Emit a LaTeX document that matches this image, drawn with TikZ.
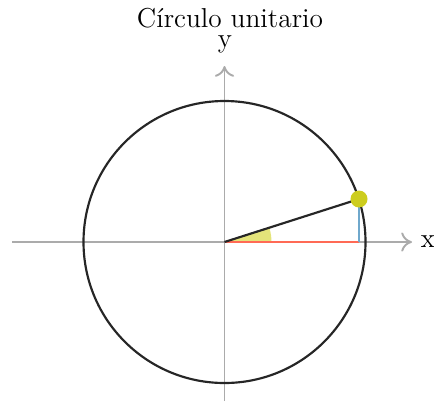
\documentclass[tikz,border=0pt]{standalone}
\usetikzlibrary{arrows.meta}
\definecolor{axisgray}{HTML}{ABABAB}
\definecolor{redline}{HTML}{FF6A55}
\definecolor{blueline}{HTML}{6FA8CC}
\definecolor{dotyellow}{HTML}{CDCD1E}
\definecolor{wedgefill}{HTML}{E4E47A}
\tikzset{
  axis/.style={draw=axisgray, line width=0.8pt, -{To[length=4.5pt,width=8pt]}},
  lbl/.style={inner sep=0pt, font=\fontsize{11.4}{13}\selectfont},
}
\begin{document}
\begin{tikzpicture}[x=0.4167pt, y=-0.4167pt]
\useasboundingbox (0,0) rectangle (434,404);
\coordinate (O) at (224.5,242);
\coordinate (L) at (12,242);
\coordinate (R) at (412,242);
\coordinate (B) at (224.5,401);
\coordinate (T) at (224.5,66);
\coordinate (P) at (359,199);
\coordinate (F) at (359,242);
\coordinate (W) at (271.5,242);
\node[lbl, anchor=base] (title) at (230,27) {Círculo unitario};
\node[lbl, anchor=base] (ylab) at (225,47) {y};
\node[lbl] (xlab) at (428,242) {x};
% angle wedge
\fill[wedgefill] (O) -- (W) arc[start angle=0, end angle=-17.7, radius=47] -- cycle;
\draw[axis] (L) -- (R);
\draw[axis] (B) -- (T);
\draw[black!85, line width=0.9pt] (O) circle[radius=141];
\draw[redline, line width=1pt] (O) -- (F);
\draw[blueline, line width=1pt] (F) -- (P);
\draw[black!85, line width=0.9pt] (O) -- (P);
\fill[dotyellow] (P) circle[radius=8.5];
\end{tikzpicture}
\end{document}
